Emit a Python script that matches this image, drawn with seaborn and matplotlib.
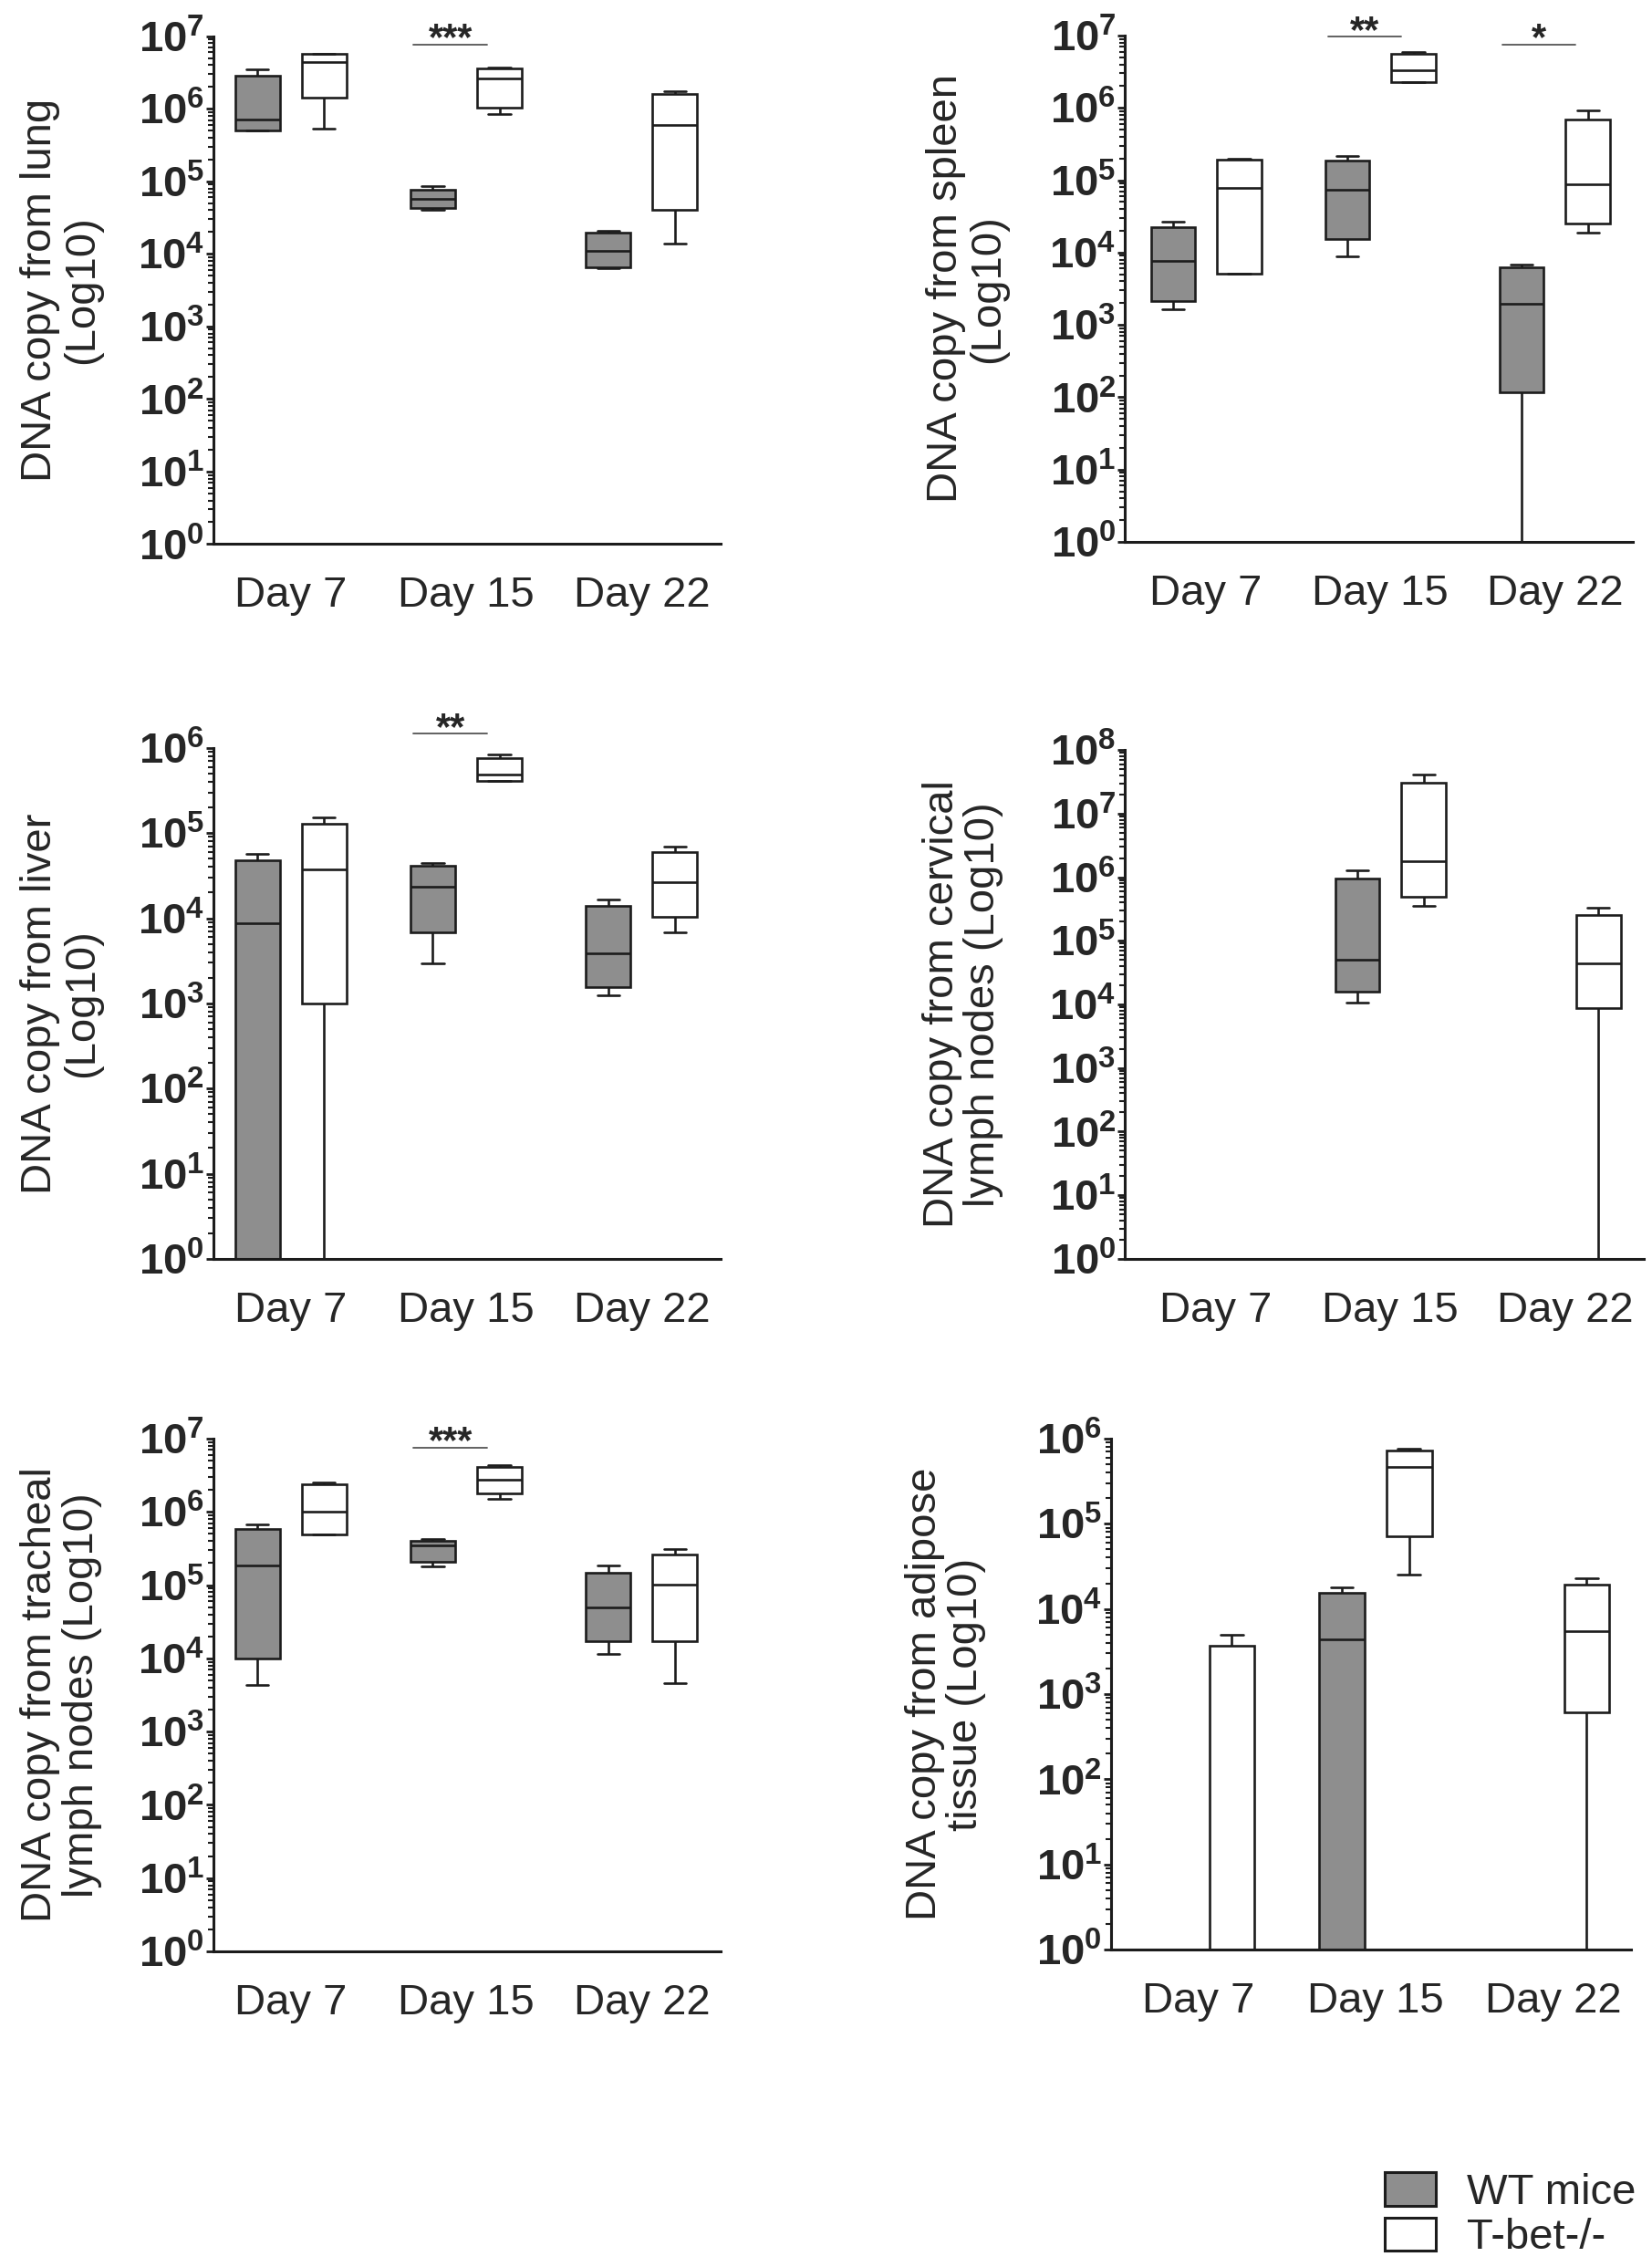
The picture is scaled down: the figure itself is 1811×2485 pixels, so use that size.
import numpy as np
import pandas as pd
import matplotlib
matplotlib.use("Agg")
import matplotlib.pyplot as plt
import seaborn as sns
from matplotlib.patches import Patch
from matplotlib.ticker import FuncFormatter, LogLocator, NullFormatter

days = ["Day 7", "Day 15", "Day 22"]
groups = ["WT mice", "T-bet-/-"]

# five-number summaries, one per day: [min, q1, median, q3, max]
lung_wt = [[5.0e5, 5.0e5, 7.1e5, 2.85e6, 3.5e6],
           [4.0e4, 4.35e4, 5.7e4, 7.7e4, 8.5e4],
           [6.4e3, 6.5e3, 1.1e4, 1.98e4, 2.1e4]]
lung_ko = [[5.4e5, 1.42e6, 4.4e6, 5.66e6, 5.8e6],
           [8.5e5, 1.04e6, 2.65e6, 3.65e6, 3.7e6],
           [1.4e4, 4.07e4, 6.06e5, 1.62e6, 1.77e6]]
spleen_wt = [[1.66e3, 2.15e3, 7.6e3, 2.27e4, 2.65e4],
             [8.8e3, 1.56e4, 7.4e4, 1.87e5, 2.16e5],
             [1, 117, 1.94e3, 6.3e3, 6.9e3]]
spleen_ko = [[5.1e3, 5.1e3, 7.8e4, 1.9e5, 1.97e5],
             [2.25e6, 2.25e6, 3.3e6, 5.56e6, 6.0e6],
             [1.87e4, 2.5e4, 8.7e4, 7.0e5, 9.2e5]]
liver_wt = [[1, 1, 8.8e3, 4.84e4, 5.7e4],
            [2.92e3, 6.9e3, 2.36e4, 4.15e4, 4.48e4],
            [1.25e3, 1.56e3, 3.85e3, 1.38e4, 1.66e4]]
liver_ko = [[1, 1.0e3, 3.76e4, 1.3e5, 1.54e5],
            [4.1e5, 4.14e5, 4.88e5, 7.6e5, 8.3e5],
            [6.9e3, 1.04e4, 2.64e4, 6.03e4, 7.0e4]]
cervical_wt = [[1, 1, 1, 1, 1],
               [1.08e4, 1.6e4, 4.99e4, 9.6e5, 1.29e6],
               [1, 1, 1, 1, 1]]
cervical_ko = [[1, 1, 1, 1, 1],
               [3.54e5, 4.97e5, 1.79e6, 3.07e7, 4.13e7],
               [1, 8.9e3, 4.37e4, 2.56e5, 3.34e5]]
tracheal_wt = [[4.35e3, 1.0e4, 1.85e5, 5.84e5, 6.8e5],
               [1.78e5, 2.1e5, 3.5e5, 3.98e5, 4.24e5],
               [1.15e4, 1.73e4, 5.0e4, 1.49e5, 1.85e5]]
tracheal_ko = [[4.95e5, 4.95e5, 1.01e6, 2.39e6, 2.54e6],
               [1.49e6, 1.8e6, 2.78e6, 4.08e6, 4.41e6],
               [4.64e3, 1.73e4, 1.01e5, 2.64e5, 3.08e5]]
adipose_wt = [[1, 1, 1, 1, 1],
              [1, 1, 4.44e3, 1.54e4, 1.8e4],
              [1, 1, 1, 1, 1]]
adipose_ko = [[1, 1, 1, 3.68e3, 4.96e3],
              [2.53e4, 7.19e4, 4.67e5, 7.3e5, 7.58e5],
              [1, 612, 5.53e3, 1.92e4, 2.31e4]]

# significance bars: (day index, height, stars)
lung_sig = [(1, 7.7e6, "***")]
spleen_sig = [(1, 9.7e6, "**"), (2, 7.5e6, "*")]
liver_sig = [(1, 1.47e6, "**")]
tracheal_sig = [(1, 7.55e6, "***")]

gray = "#8e8e8e"
edge = "#1c1c1c"

sns.set_style("ticks")
plt.rcParams['font.family'] = ['Liberation Sans', 'DejaVu Sans']
plt.rcParams['mathtext.fontset'] = 'custom'
plt.rcParams['mathtext.rm'] = 'Liberation Sans'
plt.rcParams['mathtext.bf'] = 'Liberation Sans:bold'

panels = [
    ("DNA copy from lung\n(Log10)", lung_wt, lung_ko, 7, lung_sig,
     [0.1292, 0.760, 0.307, 0.224], (-0.44, 2.45), -0.22),
    ("DNA copy from spleen\n(Log10)", spleen_wt, spleen_ko, 7, spleen_sig,
     [0.681, 0.761, 0.3076, 0.2233], (-0.465, 2.45), -0.23),
    ("DNA copy from liver\n(Log10)", liver_wt, liver_ko, 6, liver_sig,
     [0.1292, 0.4447, 0.307, 0.2254], (-0.44, 2.45), -0.22),
    ("DNA copy from cervical\nlymph nodes (Log10)", cervical_wt, cervical_ko, 8, [],
     [0.681, 0.4447, 0.314, 0.2245], (-0.52, 2.45), -0.234),
    ("DNA copy from tracheal\nlymph nodes (Log10)", tracheal_wt, tracheal_ko, 7, tracheal_sig,
     [0.1292, 0.1392, 0.307, 0.2262], (-0.44, 2.45), -0.22),
    ("DNA copy from adipose\ntissue (Log10)", adipose_wt, adipose_ko, 6, [],
     [0.6726, 0.140, 0.3147, 0.2254], (-0.49, 2.44), -0.24),
]

fig = plt.figure(figsize=(18.11, 24.85), dpi=100)

for ylab, wt, ko, top, sig, rect, xl, labx in panels:
    rows = []
    for d, w5, k5 in zip(days, wt, ko):
        rows += [(d, groups[0], v) for v in w5]
        rows += [(d, groups[1], v) for v in k5]
    df = pd.DataFrame(rows, columns=["day", "group", "copies"])

    ax = fig.add_axes(rect)
    sns.boxplot(data=df, x="day", y="copies", hue="group", order=days, hue_order=groups,
                palette={groups[0]: gray, groups[1]: "white"}, whis=(0, 100),
                showfliers=False, width=0.76, gap=0.33, linewidth=1.9,
                linecolor=edge, log_scale=True, legend=False, ax=ax)
    # let the boxes that sit on 10^0 show fully on the axis line
    for art in ax.patches + ax.lines:
        art.set_clip_on(False)
    ax.set_ylim(1, 10 ** top)
    ax.set_xlim(*xl)
    ax.yaxis.set_major_locator(LogLocator(base=10, numticks=20))
    ax.yaxis.set_minor_locator(LogLocator(base=10, subs=np.arange(2, 10), numticks=20))
    ax.yaxis.set_minor_formatter(NullFormatter())
    ax.yaxis.set_major_formatter(FuncFormatter(lambda v, p: r'$\mathbf{10^{%d}}$' % round(np.log10(v))))
    ax.tick_params(axis='y', which='major', length=6, width=2, pad=1, labelsize=34, color=edge)
    ax.tick_params(axis='y', which='minor', length=4, width=1.5, color=edge)
    ax.tick_params(axis='x', length=0, pad=25, labelsize=34)
    ax.set_xlabel("")
    ax.set_ylabel(ylab, fontsize=34, linespacing=1.05)
    ax.yaxis.set_label_coords(labx, 0.5)
    sns.despine(ax=ax)
    for s in ["left", "bottom"]:
        ax.spines[s].set_linewidth(2.2)
        ax.spines[s].set_color(edge)

    for d, y, stars in sig:
        ax.plot([d - 0.30, d + 0.12], [y, y], color="#555555", lw=1.3, clip_on=False)
        ax.annotate(stars, xy=(d - 0.09, y), xytext=(0, -4), textcoords="offset points",
                    ha="center", va="baseline", fontsize=30, fontweight="bold",
                    annotation_clip=False)

handles = [Patch(facecolor=gray, edgecolor=edge, lw=2.2, label=groups[0]),
           Patch(facecolor="white", edgecolor=edge, lw=2.2, label=groups[1])]
fig.legend(handles=handles, loc="lower right", bbox_to_anchor=(0.99, 0.004), frameon=False,
           fontsize=34, handlelength=1.2, handleheight=0.8, handletextpad=0.7,
           labelspacing=0.1, borderpad=0, borderaxespad=0)

fig.savefig("out.png", dpi=100)
